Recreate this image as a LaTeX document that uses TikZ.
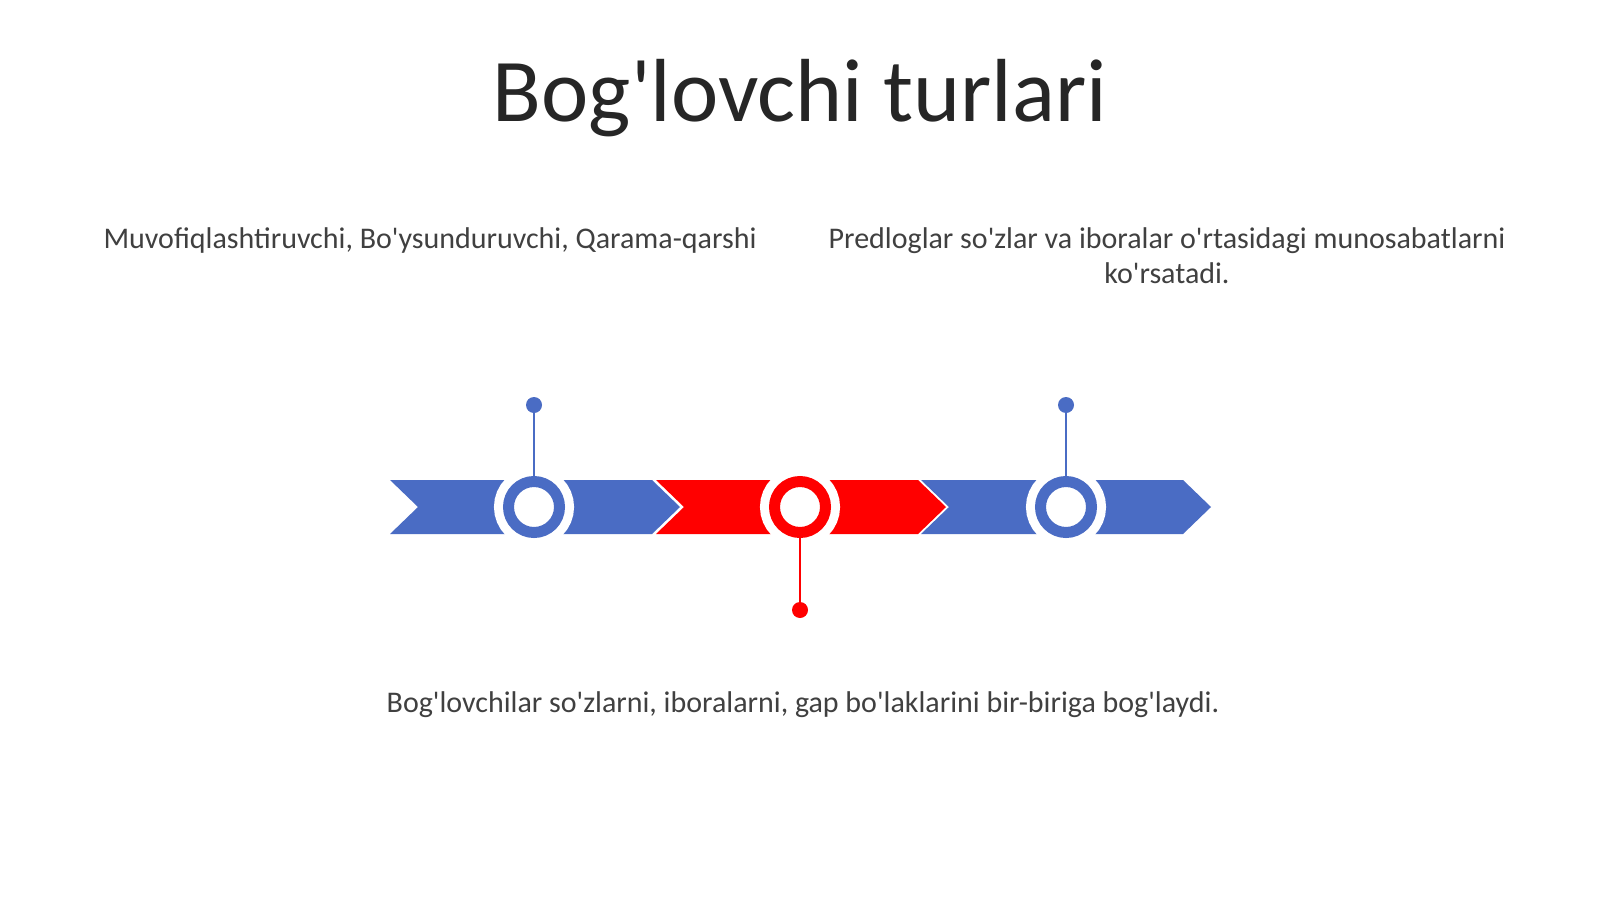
\documentclass[tikz,border=0pt]{standalone}
\usepackage{fontspec}
\setmainfont{Carlito}
\newcommand{\apos}{\textquotesingle}
\definecolor{chblue}{RGB}{74,108,196}
\definecolor{chred}{RGB}{255,0,0}
\definecolor{txt}{RGB}{64,64,64}
\definecolor{ttl}{RGB}{38,38,38}
\begin{document}
\begin{tikzpicture}[x=0.5pt,y=-0.5pt,
  ring/.style={circle, inner sep=0pt, minimum size=25.5pt, fill=white, draw=#1, line width=5.5pt,
    preaction={draw=white, line width=14.5pt}},
  dotnode/.style={circle, inner sep=0pt, minimum size=8pt, fill=#1},
  stem/.style={draw=#1, line width=1.3pt},
  body/.style={text=txt, font=\fontsize{15}{17.5}\selectfont, anchor=base, inner sep=0pt}]
\useasboundingbox (0,0) rectangle (1600,899);
\fill[white] (0,0) rectangle (1600,899);
% title
\node[text=ttl, font=\fontsize{44.8}{50}\selectfont, anchor=base, inner sep=0pt] (title) at (800,122) {Bog\apos lovchi turlari};
% texts
\node[body] (t1) at (430,248) {Muvofiqlashtiruvchi, Bo\apos ysunduruvchi, Qarama-qarshi};
\node[body, align=center] (t2) at (1167,283) {Predloglar so\apos zlar va iboralar o\apos rtasidagi munosabatlarni\\ko\apos rsatadi.};
\node[body] (t3) at (803,712) {Bog\apos lovchilar so\apos zlarni, iboralarni, gap bo\apos laklarini bir-biriga bog\apos laydi.};
% chevrons
\fill[chblue] (390,480) -- (652,480) -- (680,507) -- (652,534) -- (390,534) -- (418,507) -- cycle;
\fill[chred] (656,480) -- (918,480) -- (946,507) -- (918,534) -- (656,534) -- (684,507) -- cycle;
\fill[chblue] (921,480) -- (1183,480) -- (1211,507) -- (1183,534) -- (921,534) -- (949,507) -- cycle;
% rings
\node[ring=chblue] (c1) at (534,507) {};
\node[ring=chred] (c2) at (800,507) {};
\node[ring=chblue] (c3) at (1066,507) {};
% stems and dots
\node[dotnode=chblue] (d1) at (534,405) {};
\node[dotnode=chred] (d2) at (800,610) {};
\node[dotnode=chblue] (d3) at (1066,405) {};
\draw[stem=chblue] (d1) -- (c1.north);
\draw[stem=chred] (d2) -- (c2.south);
\draw[stem=chblue] (d3) -- (c3.north);
\end{tikzpicture}
\end{document}
